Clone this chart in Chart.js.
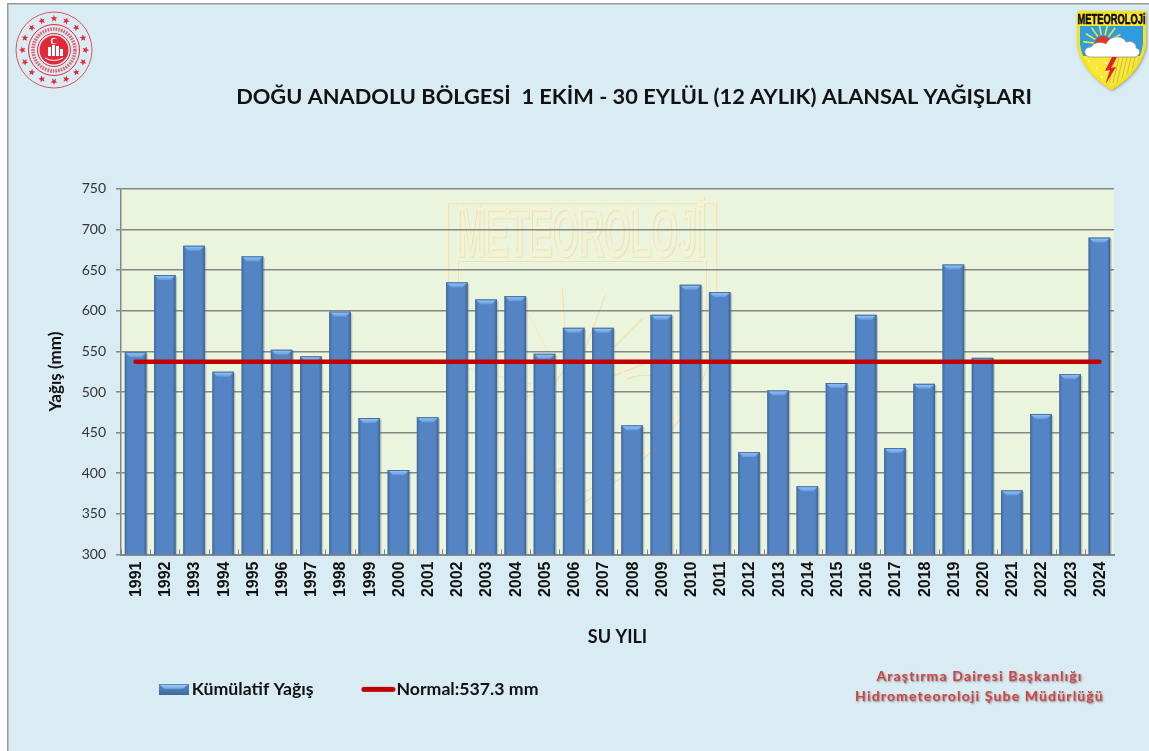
<!DOCTYPE html>
<html lang="tr">
<head>
<meta charset="utf-8">
<title>Doğu Anadolu Bölgesi Alansal Yağışları</title>
<script src="https://cdn.jsdelivr.net/npm/chart.js@4/dist/chart.umd.js"></script>
<style>
html,body{margin:0;padding:0;background:#daecf3;overflow:hidden}
canvas{display:block}
</style>
</head>
<body>
<canvas id="c" width="1149" height="751"></canvas>
<script>
const years = ["1991","1992","1993","1994","1995","1996","1997","1998","1999","2000","2001","2002","2003","2004","2005","2006","2007","2008","2009","2010","2011","2012","2013","2014","2015","2016","2017","2018","2019","2020","2021","2022","2023","2024"];
const rainfall = [549,644,680,525,667,552,544,599,468,404,469,635,614,618,547,579,579,459,595,632,623,426,502,384,511,595,431,510,657,542,379,473,522,690];
const normalValues = [537.3,537.3,537.3,537.3,537.3,537.3,537.3,537.3,537.3,537.3,537.3,537.3,537.3,537.3,537.3,537.3,537.3,537.3,537.3,537.3,537.3,537.3,537.3,537.3,537.3,537.3,537.3,537.3,537.3,537.3,537.3,537.3,537.3,537.3];
const titleText = "DOĞU ANADOLU BÖLGESİ  1 EKİM - 30 EYLÜL (12 AYLIK) ALANSAL YAĞIŞLARI";
const seriesBarName = "Kümülatif Yağış";
const seriesLineName = "Normal:537.3 mm";
const footerLines = ["Araştırma Dairesi Başkanlığı","Hidrometeoroloji Şube Müdürlüğü"];

function star(ctx,x,y,r,rot){
  ctx.beginPath();
  for(let i=0;i<10;i++){
    const a=rot+i*Math.PI/5-Math.PI/2, q=i%2?r*0.42:r;
    ctx.lineTo(x+q*Math.cos(a),y+q*Math.sin(a));
  }
  ctx.closePath();ctx.fill();
}
function leftLogo(ctx){
  const cx=54,cy=50,red="#e3283a";
  ctx.save();
  ctx.strokeStyle=red;ctx.fillStyle=red;
  ctx.lineWidth=.8;
  ctx.beginPath();ctx.arc(cx,cy,38,0,7);ctx.stroke();
  for(let i=0;i<16;i++){
    const a=i*Math.PI/8;
    star(ctx,cx+31.5*Math.sin(a),cy-31.5*Math.cos(a),3.6,a);
  }
  ctx.lineWidth=1;
  ctx.beginPath();ctx.arc(cx,cy,25.5,0,7);ctx.stroke();
  ctx.beginPath();ctx.arc(cx,cy,16.5,0,7);ctx.stroke();
  ctx.globalAlpha=.7;ctx.lineWidth=3.6;ctx.setLineDash([1.6,1.1]);
  ctx.beginPath();ctx.arc(cx,cy,21,0,7);ctx.stroke();
  ctx.setLineDash([]);ctx.globalAlpha=1;
  ctx.beginPath();ctx.arc(cx,cy,14.5,0,7);ctx.fill();
  ctx.fillStyle="#fff";
  ctx.beginPath();ctx.arc(cx,cy-9,3.2,0,7);ctx.fill();
  ctx.fillStyle=red;
  ctx.beginPath();ctx.arc(cx+1,cy-9,2.6,0,7);ctx.fill();
  ctx.fillStyle="#fff";
  [[-6,-3,3,9],[-2,-5,3,11],[2,-4,3,10],[6,-1,3,7]].forEach(r=>ctx.fillRect(cx+r[0],cy+r[1],r[2],r[3]));
  ctx.strokeStyle="#fff";ctx.lineWidth=1;
  ctx.beginPath();ctx.moveTo(cx-9,cy+8);ctx.quadraticCurveTo(cx,cy+13,cx+9,cy+8);ctx.stroke();
  ctx.restore();
}
function shieldPath(ctx,x,y,w,h){
  ctx.beginPath();
  ctx.moveTo(x,y);ctx.lineTo(x+w,y);
  ctx.lineTo(x+w,y+h*.42);
  ctx.quadraticCurveTo(x+w*.95,y+h*.76,x+w/2,y+h);
  ctx.quadraticCurveTo(x+w*.05,y+h*.76,x,y+h*.42);
  ctx.closePath();
}
function rightLogo(ctx){
  const x=1077,y=11,w=69,h=79;
  ctx.save();
  ctx.shadowColor="rgba(90,90,90,.5)";ctx.shadowBlur=3;ctx.shadowOffsetX=1;ctx.shadowOffsetY=1;
  ctx.fillStyle="#f5e31e";shieldPath(ctx,x,y,w,h);ctx.fill();
  ctx.shadowColor="transparent";
  ctx.save();
  shieldPath(ctx,x+3,y+3,w-6,h-7);ctx.clip();
  ctx.fillStyle="#fbe834";ctx.fillRect(x,y,w,h);
  ctx.fillStyle="#2f9ce0";ctx.fillRect(x,y+15,w,30);
  ctx.fillStyle="#fff";
  [[12,50],[20,57],[13,62],[25,66],[18,70],[29,52],[30,60]].forEach(p=>{ctx.beginPath();ctx.arc(x+p[0],y+p[1],.9,0,7);ctx.fill();});
  ctx.strokeStyle="#b7b35a";ctx.lineWidth=.8;
  for(let i=0;i<9;i++){ctx.beginPath();ctx.moveTo(x+38+i*4,y+46);ctx.lineTo(x+32+i*4,y+72);ctx.stroke();}
  ctx.strokeStyle="#f4e82a";ctx.lineWidth=1.6;
  const sx=x+26,sy=y+33;
  for(let i=0;i<7;i++){const a=Math.PI+0.12+i*0.42;ctx.beginPath();ctx.moveTo(sx+9*Math.cos(a),sy+9*Math.sin(a));ctx.lineTo(sx+20*Math.cos(a),sy+20*Math.sin(a));ctx.stroke();}
  ctx.fillStyle="#e0352b";ctx.beginPath();ctx.arc(sx,sy,8,0,7);ctx.fill();
  ctx.fillStyle="#fff";ctx.strokeStyle="#8a8a8a";ctx.lineWidth=.7;
  ctx.beginPath();
  ctx.moveTo(x+12,y+46);
  ctx.bezierCurveTo(x+6,y+44,x+6,y+36,x+14,y+36);
  ctx.bezierCurveTo(x+18,y+30,x+26,y+31,x+29,y+33);
  ctx.bezierCurveTo(x+33,y+24,x+46,y+24,x+49,y+31);
  ctx.bezierCurveTo(x+55,y+29,x+60,y+33,x+59,y+37);
  ctx.bezierCurveTo(x+65,y+38,x+63,y+46,x+57,y+46);
  ctx.closePath();ctx.fill();ctx.stroke();
  ctx.fillStyle="#e3202a";
  ctx.beginPath();
  ctx.moveTo(x+35,y+46);ctx.lineTo(x+28,y+60);ctx.lineTo(x+33,y+59);ctx.lineTo(x+28,y+74);
  ctx.lineTo(x+39,y+56);ctx.lineTo(x+34,y+57);ctx.lineTo(x+40,y+46);ctx.closePath();ctx.fill();
  ctx.restore();
  ctx.fillStyle="#111";
  ctx.font="bold 12px 'Liberation Sans'";
  ctx.textAlign="center";ctx.textBaseline="middle";
  ctx.save();ctx.translate(x+w/2,y+9);ctx.scale(.78,1.25);ctx.lineWidth=.5;ctx.strokeStyle="#111";ctx.fillText("METEOROLOJi",0,0);ctx.strokeText("METEOROLOJi",0,0);ctx.restore();
  ctx.restore();
}
function watermark(ctx){
  const x=447,y=202,w=268,h=300,pale="#f7f3d2",dark="#e3e4c2";
  ctx.save();
  ctx.beginPath();ctx.rect(121,188,993,367);ctx.clip();
  [[dark,1,1],[pale,0,0]].forEach(s=>{
    ctx.save();
    ctx.translate(s[1],s[2]);
    ctx.strokeStyle=s[0];ctx.lineWidth=2.5;
    shieldPath(ctx,x,y,w,h);ctx.stroke();
    ctx.lineWidth=2;
    shieldPath(ctx,x+10,y+58,w-20,h-68);ctx.stroke();
    ctx.save();
    ctx.translate(x+w/2,y+53);ctx.scale(.95,1.85);
    ctx.font="bold 36px 'Liberation Sans'";ctx.textAlign="center";ctx.textBaseline="alphabetic";ctx.lineWidth=2;
    ctx.strokeText("METEOROLOJİ",0,0);
    ctx.restore();
    const sx=x+120,sy=y+190;ctx.lineWidth=2.5;
    for(let i=0;i<7;i++){const a=Math.PI+.25+i*.42;ctx.beginPath();ctx.moveTo(sx+38*Math.cos(a),sy+38*Math.sin(a));ctx.lineTo(sx+105*Math.cos(a),sy+105*Math.sin(a));ctx.stroke();}
    ctx.beginPath();
    ctx.moveTo(x+60,y+220);
    ctx.bezierCurveTo(x+60,y+195,x+85,y+190,x+105,y+185);
    ctx.bezierCurveTo(x+115,y+150,x+165,y+150,x+180,y+175);
    ctx.bezierCurveTo(x+215,y+160,x+240,y+195,x+225,y+225);
    ctx.stroke();
    ctx.beginPath();ctx.moveTo(x+135,y+230);ctx.lineTo(x+112,y+265);ctx.lineTo(x+130,y+262);ctx.lineTo(x+115,y+295);ctx.stroke();
    ctx.restore();
  });
  ctx.restore();
}
const pagePlugin = {
  id:"page",
  beforeLayout(chart){
    chart.legend.isHorizontal=()=>true;
  },
  afterLayout(chart){
    const lg=chart.legend;
    lg.left=109;lg.right=1000;lg.top=625;lg.bottom=760;
    const t=chart.titleBlock;
    t.left=0;t.right=1268;
  },
  beforeDraw(chart){
    const {ctx,chartArea:a}=chart;
    ctx.save();
    ctx.fillStyle="#fff";ctx.fillRect(0,0,1149,751);
    ctx.fillStyle="#daecf3";ctx.fillRect(7,3,1142,748);
    ctx.fillStyle="#9a9a9a";
    ctx.fillRect(7,3,1142,1.5);ctx.fillRect(7,3,1.5,748);
    ctx.fillStyle="#ebf5de";ctx.fillRect(a.left,a.top,a.right-a.left,a.bottom-a.top);
    ctx.restore();
    watermark(ctx);leftLogo(ctx);rightLogo(ctx);
  },
  afterDatasetDraw(chart,args){
    if(args.index!==0)return;
    const ctx=chart.ctx,bottom=chart.chartArea.bottom;
    ctx.save();
    args.meta.data.forEach(b=>{
      const l=b.x-b.width/2,r=b.x+b.width/2,t=b.y,bt=bottom;
      ctx.fillStyle="rgba(80,90,90,.28)";ctx.fillRect(r,t+1.5,1.5,bt-t-1.5);
      let g=ctx.createLinearGradient(l,0,l+3,0);
      g.addColorStop(0,"#3f6a9e");g.addColorStop(1,"#5484c3");
      ctx.fillStyle=g;ctx.beginPath();ctx.moveTo(l,t);ctx.lineTo(l+3,t+5);ctx.lineTo(l+3,bt);ctx.lineTo(l,bt);ctx.fill();
      g=ctx.createLinearGradient(r-3,0,r,0);
      g.addColorStop(0,"#5484c3");g.addColorStop(1,"#3a628f");
      ctx.fillStyle=g;ctx.beginPath();ctx.moveTo(r,t);ctx.lineTo(r-3,t+5);ctx.lineTo(r-3,bt);ctx.lineTo(r,bt);ctx.fill();
      g=ctx.createLinearGradient(0,t,0,t+5);
      g.addColorStop(0,"#a2c9f3");g.addColorStop(1,"#5f9be4");
      ctx.fillStyle=g;ctx.beginPath();ctx.moveTo(l+.5,t);ctx.lineTo(r-.5,t);ctx.lineTo(r-5,t+5);ctx.lineTo(l+5,t+5);ctx.fill();
      ctx.fillStyle="#44709f";ctx.fillRect(l,t,r-l,1);
    });
    ctx.restore();
  },
  afterDraw(chart){
    const {ctx,scales:{x}}=chart,a=chart.chartArea,step=x.getPixelForValue(1)-x.getPixelForValue(0);
    ctx.save();
    ctx.strokeStyle="#868686";ctx.lineWidth=1;
    years.forEach((yr,i)=>{
      const px=Math.round(x.getPixelForValue(i)-step/2)+.5;
      ctx.beginPath();ctx.moveTo(px,a.bottom);ctx.lineTo(px,a.bottom-5);ctx.stroke();
    });
    ctx.font="bold 14px Lato";
    ctx.letterSpacing="1.15px";
    ctx.textAlign="center";ctx.textBaseline="middle";
    ctx.shadowColor="rgba(70,70,70,.6)";ctx.shadowBlur=2;ctx.shadowOffsetX=1;ctx.shadowOffsetY=1;
    ctx.fillStyle="#d04444";
    ctx.fillText(footerLines[0],979.5,676);
    ctx.fillText(footerLines[1],979.5,696);
    ctx.restore();
  }
};
function swatch(w,h,paint){
  const s=document.createElement("canvas");s.width=w;s.height=h;paint(s.getContext("2d"));return s;
}
const barSwatch=swatch(30,11,c=>{
  const g=c.createLinearGradient(0,0,0,11);
  g.addColorStop(0,"#4f7fb8");g.addColorStop(.5,"#4d7db6");g.addColorStop(1,"#3f6899");
  c.fillStyle=g;c.fillRect(0,0,30,11);
  const h=c.createLinearGradient(0,1,0,5);
  h.addColorStop(0,"#a6cdf5");h.addColorStop(1,"#6aa3e6");
  c.fillStyle=h;c.beginPath();c.moveTo(1,1);c.lineTo(29,1);c.lineTo(24,5);c.lineTo(6,5);c.fill();
});
const lineSwatch=swatch(35,7,c=>{
  c.strokeStyle="#c00000";c.lineWidth=5;c.lineCap="round";
  c.beginPath();c.moveTo(3,3.5);c.lineTo(32,3.5);c.stroke();
});
new Chart(document.getElementById("c"),{
  data:{
    labels:years,
    datasets:[
      {type:"bar",label:seriesBarName,data:rainfall,backgroundColor:"#5484c3",categoryPercentage:1,barPercentage:.74,order:2,pointStyle:barSwatch},
      {type:"line",label:seriesLineName,data:normalValues,borderColor:"#c00000",backgroundColor:"#c00000",borderWidth:4.5,pointRadius:0,borderCapStyle:"round",tension:0,order:1,pointStyle:lineSwatch}
    ]
  },
  plugins:[pagePlugin],
  options:{
    responsive:false,animation:false,
    events:[],
    layout:{padding:{left:0,right:35,top:0,bottom:0}},
    plugins:{
      tooltip:{enabled:false},
      title:{display:true,text:titleText,color:"#111",font:{family:"Lato",size:21.8,weight:"bold"},padding:{top:84,bottom:78.7},align:"center"},
      legend:{
        display:true,position:"chartArea",align:"start",
        labels:{usePointStyle:true,pointStyleWidth:18.5,boxHeight:11,padding:55.5,color:"#111",font:{family:"Lato",size:17.7,weight:"bold"},sort:(a,b)=>a.datasetIndex-b.datasetIndex}
      }
    },
    scales:{
      x:{
        type:"category",offset:true,
        afterFit(s){s.height=196.5;},
        grid:{display:true,drawOnChartArea:false,drawTicks:false,color:"#868686"},
        border:{display:true,color:"#868686",width:2},
        ticks:{autoSkip:false,minRotation:90,maxRotation:90,padding:7,labelOffset:1,color:"#111",font:{family:"Liberation Sans",size:16,weight:"bold"}},
        title:{display:true,text:"SU YILI",color:"#111",font:{family:"Lato",size:18,weight:"bold"},padding:{top:0,bottom:103}}
      },
      y:{
        type:"linear",min:300,max:750,
        afterFit(s){s.width=121;},
        grid:{color:"#868686",lineWidth:1.5,tickLength:5,tickColor:"#868686"},
        border:{display:true,color:"#868686",width:1.5},
        ticks:{stepSize:50,padding:10,color:"#333",font:{family:"Lato",size:14}},
        title:{display:true,text:"Yağış (mm)",color:"#111",font:{family:"Lato",size:17,weight:"bold"},padding:{top:45,bottom:0}}
      }
    }
  }
});
</script>
</body>
</html>
